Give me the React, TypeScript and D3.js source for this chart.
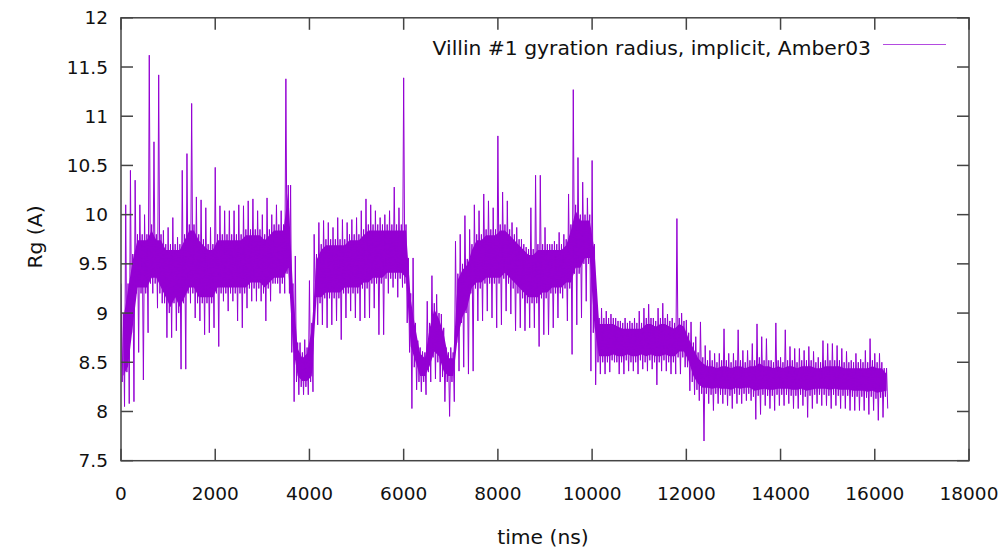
import * as d3 from 'd3';
import React from 'react';

// Rg trace in 100 ns bins (bin start = index * STEP)
const STEP = 100;
const rgHigh = [
  9.3, 10.1, 10.45, 10.35, 10.1, 10.0, 11.62, 10.74, 11.42, 9.84,
  9.87, 9.97, 9.77, 10.45, 10.62, 11.13, 10.18, 10.15, 10.07, 9.87,
  10.48, 10.09, 10.04, 10.04, 10.04, 10.1, 10.09, 10.14, 10.16, 10.04,
  10.0, 10.17, 10.0, 10.1, 10.04, 11.38, 10.3, 9.58, 8.7, 8.73,
  9.33, 9.8, 9.92, 9.94, 9.92, 9.87, 9.97, 9.95, 9.92, 9.95,
  9.97, 10.04, 10.16, 10.1, 10.04, 9.97, 10.0, 10.04, 10.28, 10.07,
  11.39, 9.56, 9.56, 8.72, 8.61, 9.12, 9.38, 9.19, 8.99, 8.65,
  8.65, 9.73, 9.8, 9.99, 9.85, 10.1, 10.04, 10.21, 10.14, 10.07,
  10.8, 10.23, 10.14, 9.92, 9.87, 9.75, 9.67, 10.07, 10.4, 10.4,
  9.87, 9.7, 9.73, 9.82, 9.8, 10.21, 11.27, 10.58, 10.33, 10.17,
  10.55, 9.05, 9.05, 9.02, 8.99, 8.95, 8.92, 8.95, 8.92, 8.95,
  9.02, 9.05, 9.09, 8.95, 9.05, 9.1, 8.99, 8.95, 9.96, 9.0,
  8.93, 8.91, 8.76, 8.91, 8.67, 8.62, 8.59, 8.59, 8.84, 8.59,
  8.59, 8.83, 8.62, 8.62, 8.69, 8.89, 8.76, 8.74, 8.52, 8.9,
  8.55, 8.83, 8.66, 8.64, 8.64, 8.62, 8.66, 8.61, 8.55, 8.72,
  8.69, 8.69, 8.67, 8.64, 8.61, 8.52, 8.59, 8.53, 8.62, 8.74,
  8.59, 8.59, 8.44,
];
const rgLow = [
  8.05, 8.08, 8.1, 8.6, 8.32, 8.8, 9.2, 9.05, 9.1, 8.75,
  8.75, 8.82, 8.43, 8.43, 9.1, 8.95, 8.92, 8.78, 8.8, 8.85,
  8.66, 9.12, 9.02, 9.12, 8.92, 8.85, 9.05, 9.12, 9.12, 9.12,
  8.92, 9.12, 9.3, 9.2, 9.2, 9.2, 8.1, 8.17, 8.17, 8.17,
  8.2, 8.88, 8.88, 8.85, 8.88, 8.92, 8.73, 8.95, 9.02, 8.95,
  8.92, 8.95, 8.95, 9.05, 8.78, 8.78, 9.2, 9.26, 9.16, 9.26,
  8.9, 8.03, 8.22, 8.2, 8.17, 8.3, 8.33, 8.3, 8.1, 7.95,
  8.1, 8.41, 8.45, 8.38, 8.41, 8.92, 8.92, 9.02, 8.95, 8.85,
  8.88, 9.02, 8.99, 8.82, 8.85, 8.82, 8.85, 8.85, 8.66, 8.78,
  8.78, 8.85, 8.95, 9.15, 8.92, 8.58, 8.88, 8.95, 9.12, 8.41,
  8.27, 8.38, 8.38, 8.4, 8.5, 8.38, 8.38, 8.41, 8.41, 8.38,
  8.43, 8.41, 8.43, 8.27, 8.41, 8.41, 8.38, 8.38, 8.38, 8.45,
  8.21, 8.17, 8.11, 7.7, 8.08, 8.01, 8.08, 8.08, 8.06, 8.03,
  8.08, 8.08, 8.11, 8.11, 7.92, 7.97, 8.06, 8.03, 8.01, 8.06,
  8.06, 8.08, 8.03, 8.03, 8.06, 7.94, 8.03, 8.08, 8.06, 8.06,
  8.03, 8.06, 8.03, 8.03, 8.01, 8.01, 8.01, 8.01, 7.97, 8.01,
  7.91, 7.94, 8.03,
];
const coreHigh = [
  9.0, 9.3, 9.6, 9.8, 9.8, 9.8, 9.9, 9.8, 9.8, 9.7,
  9.7, 9.7, 9.7, 9.8, 9.9, 9.9, 9.8, 9.75, 9.7, 9.7,
  9.8, 9.8, 9.8, 9.8, 9.8, 9.8, 9.85, 9.85, 9.85, 9.85,
  9.8, 9.85, 9.9, 9.9, 9.9, 10.3, 9.3, 8.7, 8.6, 8.65,
  8.9, 9.6, 9.7, 9.75, 9.75, 9.75, 9.75, 9.75, 9.8, 9.8,
  9.8, 9.85, 9.9, 9.9, 9.9, 9.9, 9.9, 9.9, 9.9, 9.9,
  9.9, 9.2, 8.9, 8.65, 8.6, 8.9, 9.1, 9.0, 8.85, 8.6,
  8.6, 9.4, 9.5, 9.55, 9.7, 9.8, 9.8, 9.85, 9.85, 9.85,
  9.9, 9.9, 9.85, 9.8, 9.75, 9.7, 9.65, 9.65, 9.7, 9.7,
  9.7, 9.7, 9.7, 9.7, 9.75, 9.9, 10.1, 10.0, 10.0, 10.0,
  9.7, 8.95, 8.95, 8.95, 8.95, 8.92, 8.9, 8.9, 8.9, 8.9,
  8.9, 8.95, 8.95, 8.92, 8.95, 8.95, 8.92, 8.9, 8.95, 8.92,
  8.8, 8.7, 8.6, 8.55, 8.52, 8.52, 8.5, 8.52, 8.52, 8.5,
  8.52, 8.52, 8.5, 8.52, 8.52, 8.55, 8.52, 8.52, 8.5, 8.52,
  8.5, 8.52, 8.52, 8.5, 8.52, 8.52, 8.52, 8.5, 8.5, 8.52,
  8.52, 8.52, 8.52, 8.5, 8.5, 8.5, 8.5, 8.5, 8.5, 8.52,
  8.5, 8.5, 8.44,
];
const coreLow = [
  8.3, 8.4, 8.8, 9.2, 9.2, 9.2, 9.3, 9.3, 9.2, 9.1,
  9.0, 9.1, 9.0, 9.1, 9.2, 9.2, 9.1, 9.1, 9.1, 9.1,
  9.2, 9.2, 9.2, 9.2, 9.2, 9.2, 9.2, 9.25, 9.25, 9.25,
  9.2, 9.25, 9.3, 9.3, 9.3, 9.4, 8.6, 8.3, 8.25, 8.25,
  8.3, 9.1, 9.1, 9.15, 9.15, 9.15, 9.15, 9.2, 9.2, 9.2,
  9.2, 9.25, 9.25, 9.3, 9.3, 9.3, 9.35, 9.35, 9.35, 9.35,
  9.3, 8.6, 8.45, 8.3, 8.3, 8.4, 8.55, 8.5, 8.35, 8.3,
  8.3, 8.7, 8.9, 9.0, 9.2, 9.25, 9.25, 9.3, 9.3, 9.3,
  9.3, 9.35, 9.3, 9.25, 9.2, 9.15, 9.1, 9.1, 9.1, 9.15,
  9.15, 9.2, 9.2, 9.2, 9.25, 9.25, 9.4, 9.4, 9.5, 9.5,
  8.8, 8.5, 8.5, 8.5, 8.52, 8.5, 8.5, 8.52, 8.5, 8.5,
  8.52, 8.5, 8.52, 8.5, 8.5, 8.52, 8.5, 8.5, 8.55, 8.55,
  8.45, 8.3, 8.22, 8.18, 8.18, 8.17, 8.18, 8.17, 8.17, 8.16,
  8.18, 8.17, 8.18, 8.18, 8.15, 8.16, 8.17, 8.16, 8.16, 8.17,
  8.17, 8.17, 8.16, 8.16, 8.17, 8.15, 8.16, 8.17, 8.17, 8.17,
  8.16, 8.17, 8.16, 8.16, 8.16, 8.15, 8.15, 8.15, 8.14, 8.15,
  8.13, 8.14, 8.15,
];

const xTickValues = [0, 2000, 4000, 6000, 8000, 10000, 12000, 14000, 16000, 18000];
const yTickValues = [7.5, 8, 8.5, 9, 9.5, 10, 10.5, 11, 11.5, 12];
const legendLabel = 'Villin #1 gyration radius, implicit, Amber03';

const W = 1008;
const H = 550;
const left = 121;
const right = 969;
const top = 17.8;
const bottom = 460.7;
const tickLen = 12;
const purple = '#9400d3';
const axisColor = '#444';
const font = "'DejaVu Sans', Verdana, sans-serif";

export default function App() {
  const x = d3.scaleLinear().domain([0, 18000]).range([left, right]);
  const y = d3.scaleLinear().domain([7.5, 12]).range([bottom, top]);

  // each bin drawn as a zigzag: peak, core bottom, core top, dip
  const q = STEP / 4;
  const pts: [number, number][] = [];
  rgHigh.forEach((hi, i) => {
    const t = i * STEP;
    pts.push([t, hi]);
    pts.push([t + q, coreLow[i]]);
    pts.push([t + 2 * q, coreHigh[i]]);
    pts.push([t + 3 * q, rgLow[i]]);
  });
  const line = d3.line<[number, number]>()
    .x(d => x(d[0]))
    .y(d => y(d[1]));

  const inset = 0.06;
  const area = d3.area<number>()
    .x((d, i) => x(i * STEP + STEP / 2))
    .y0((d, i) => y(coreLow[i] + inset))
    .y1(d => y(d - inset));

  return (
    <svg width={W} height={H} style={{ position: 'absolute', left: 0, top: 0 }}>
      <rect width={W} height={H} fill="#fff" />
      <defs>
        <clipPath id="plot">
          <rect x={left} y={top} width={right - left} height={bottom - top} />
        </clipPath>
      </defs>

      <g clipPath="url(#plot)">
        <path d={area(coreHigh) || ''} fill={purple} />
        <path d={line(pts) || ''} fill="none" stroke={purple} strokeWidth={1} />
      </g>

      {/* ticks, mirrored on all four sides */}
      <g stroke={axisColor} strokeWidth={1.5}>
        {xTickValues.map(t => (
          <g key={'xt' + t}>
            <line x1={x(t)} x2={x(t)} y1={bottom} y2={bottom - tickLen} />
            <line x1={x(t)} x2={x(t)} y1={top} y2={top + tickLen} />
          </g>
        ))}
        {yTickValues.map(t => (
          <g key={'yt' + t}>
            <line x1={left} x2={left + tickLen} y1={y(t)} y2={y(t)} />
            <line x1={right} x2={right - tickLen} y1={y(t)} y2={y(t)} />
          </g>
        ))}
      </g>
      <rect x={left} y={top} width={right - left} height={bottom - top}
        fill="none" stroke={axisColor} strokeWidth={1.5} />

      <g fontFamily={font} fill="#111">
        <g fontSize={18.5}>
          {xTickValues.map(t => (
            <text key={'xl' + t} x={x(t)} y={493} textAnchor="middle" dominantBaseline="central">{t}</text>
          ))}
          {yTickValues.map(t => (
            <text key={'yl' + t} x={108} y={y(t)} textAnchor="end" dominantBaseline="central">{t}</text>
          ))}
        </g>
        <g fontSize={20.3}>
          <text x={543} y={537} textAnchor="middle" dominantBaseline="central">time (ns)</text>
          <text transform="translate(35,237) rotate(-90)" textAnchor="middle" dominantBaseline="central">Rg (A)</text>
          <text x={871} y={48} textAnchor="end" dominantBaseline="central">{legendLabel}</text>
        </g>
      </g>
      <line x1={883} x2={946} y1={44.5} y2={44.5} stroke={purple} strokeWidth={1} opacity={0.7} />
    </svg>
  );
}
